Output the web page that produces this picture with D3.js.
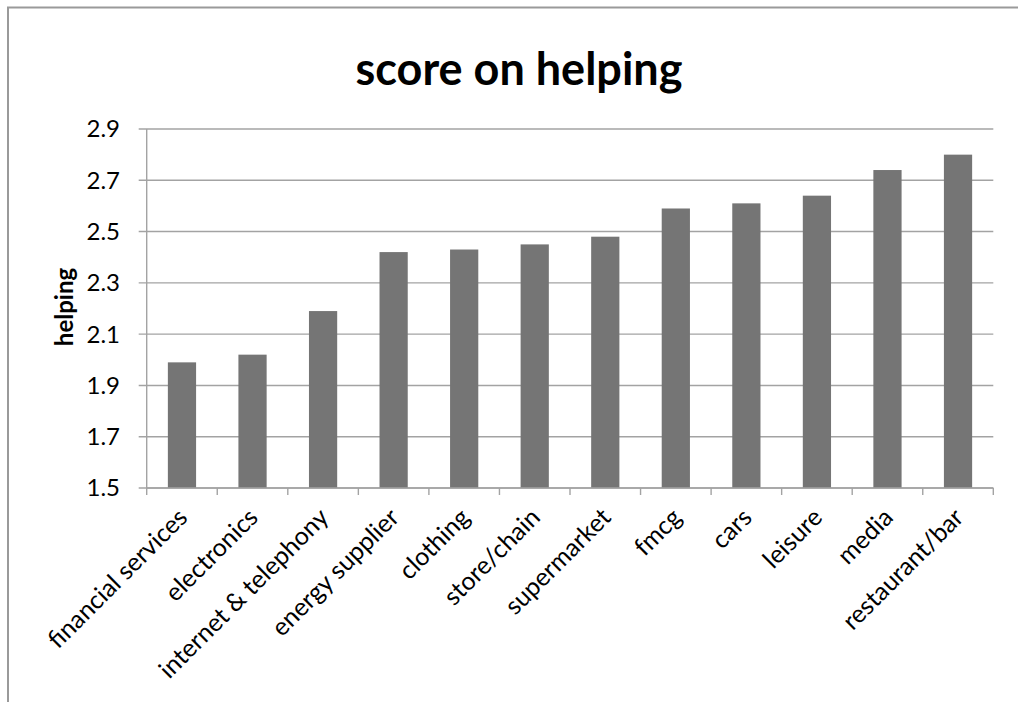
<!DOCTYPE html>
<html>
<head>
<meta charset="utf-8">
<script src="https://cdn.jsdelivr.net/npm/d3@7"></script>
<style>
  html, body { margin: 0; padding: 0; background: #ffffff; }
  svg { display: block; }
</style>
</head>
<body>
<svg id="chart" width="1018" height="702"></svg>
<script>
const categories = ["financial services", "electronics", "internet & telephony", "energy supplier", "clothing", "store/chain", "supermarket", "fmcg", "cars", "leisure", "media", "restaurant/bar"];
const values = [1.99, 2.02, 2.19, 2.42, 2.43, 2.45, 2.48, 2.59, 2.61, 2.64, 2.74, 2.80];
const yTicks = [1.5, 1.7, 1.9, 2.1, 2.3, 2.5, 2.7, 2.9];
const titleText = "score on helping";
const yTitle = "helping";

(function () {
const svg = d3.select("#chart");
const FONT = "Lato, 'Open Sans', sans-serif";

const plotLeft = 146.7, plotRight = 993.3, plotTop = 129, plotBottom = 488;

// chart border (top + left visible)
svg.append("path")
  .attr("d", "M8,702 V7.5 H1018")
  .attr("fill", "none").attr("stroke", "#9a9a9a").attr("stroke-width", 2);

const x = d3.scaleBand().domain(categories).range([plotLeft, plotRight]).paddingInner(0.6).paddingOuter(0.3);
const y = d3.scaleLinear().domain([1.5, 2.9]).range([plotBottom, plotTop]);

// gridlines
svg.append("g").selectAll("line").data(yTicks).join("line")
  .attr("x1", plotLeft - 8).attr("x2", plotRight)
  .attr("y1", d => y(d)).attr("y2", d => y(d))
  .attr("stroke", "#a3a3a3").attr("stroke-width", 1.4);

// y axis labels
svg.append("g").selectAll("text").data(yTicks).join("text")
  .attr("x", 120).attr("y", d => y(d)).attr("dy", "0.35em")
  .attr("text-anchor", "end")
  .attr("font-family", FONT).attr("font-size", 24).attr("fill", "#000")
  .text(d => d3.format(".1f")(d));

// bars
svg.append("g").selectAll("rect").data(values).join("rect")
  .attr("x", (d, i) => x(categories[i]))
  .attr("width", x.bandwidth())
  .attr("y", d => y(d))
  .attr("height", d => y(1.5) - y(d))
  .attr("fill", "#757575");

// y axis line
svg.append("line").attr("x1", plotLeft).attr("x2", plotLeft).attr("y1", plotTop).attr("y2", plotBottom + 0.5)
  .attr("stroke", "#a3a3a3").attr("stroke-width", 1.4);

// x axis line
svg.append("line").attr("x1", plotLeft).attr("x2", plotRight).attr("y1", plotBottom).attr("y2", plotBottom)
  .attr("stroke", "#a3a3a3").attr("stroke-width", 1.4);

// x ticks at band boundaries
const boundaries = d3.range(categories.length + 1).map(i => plotLeft + i * (plotRight - plotLeft) / categories.length);
svg.append("g").selectAll("line").data(boundaries).join("line")
  .attr("x1", d => d).attr("x2", d => d).attr("y1", plotBottom).attr("y2", plotBottom + 7)
  .attr("stroke", "#a3a3a3").attr("stroke-width", 1.4);

// x labels
svg.append("g").selectAll("text").data(categories).join("text")
  .attr("transform", d => `translate(${x(d) + x.bandwidth() / 2 + 7},${plotBottom + 31}) rotate(-45)`)
  .attr("text-anchor", "end")
  .attr("font-family", FONT).attr("font-size", 25).attr("fill", "#000")
  .text(d => d);

// y title
svg.append("text")
  .attr("transform", `translate(73,307) rotate(-90)`)
  .attr("text-anchor", "middle")
  .attr("font-family", FONT).attr("font-weight", "bold").attr("font-size", 24).attr("fill", "#000")
  .text(yTitle);

// title
svg.append("text")
  .attr("x", 519).attr("y", 85)
  .attr("text-anchor", "middle")
  .attr("font-family", FONT).attr("font-weight", "bold").attr("font-size", 45).attr("fill", "#000")
  .text(titleText);
})();
</script>
</body>
</html>
